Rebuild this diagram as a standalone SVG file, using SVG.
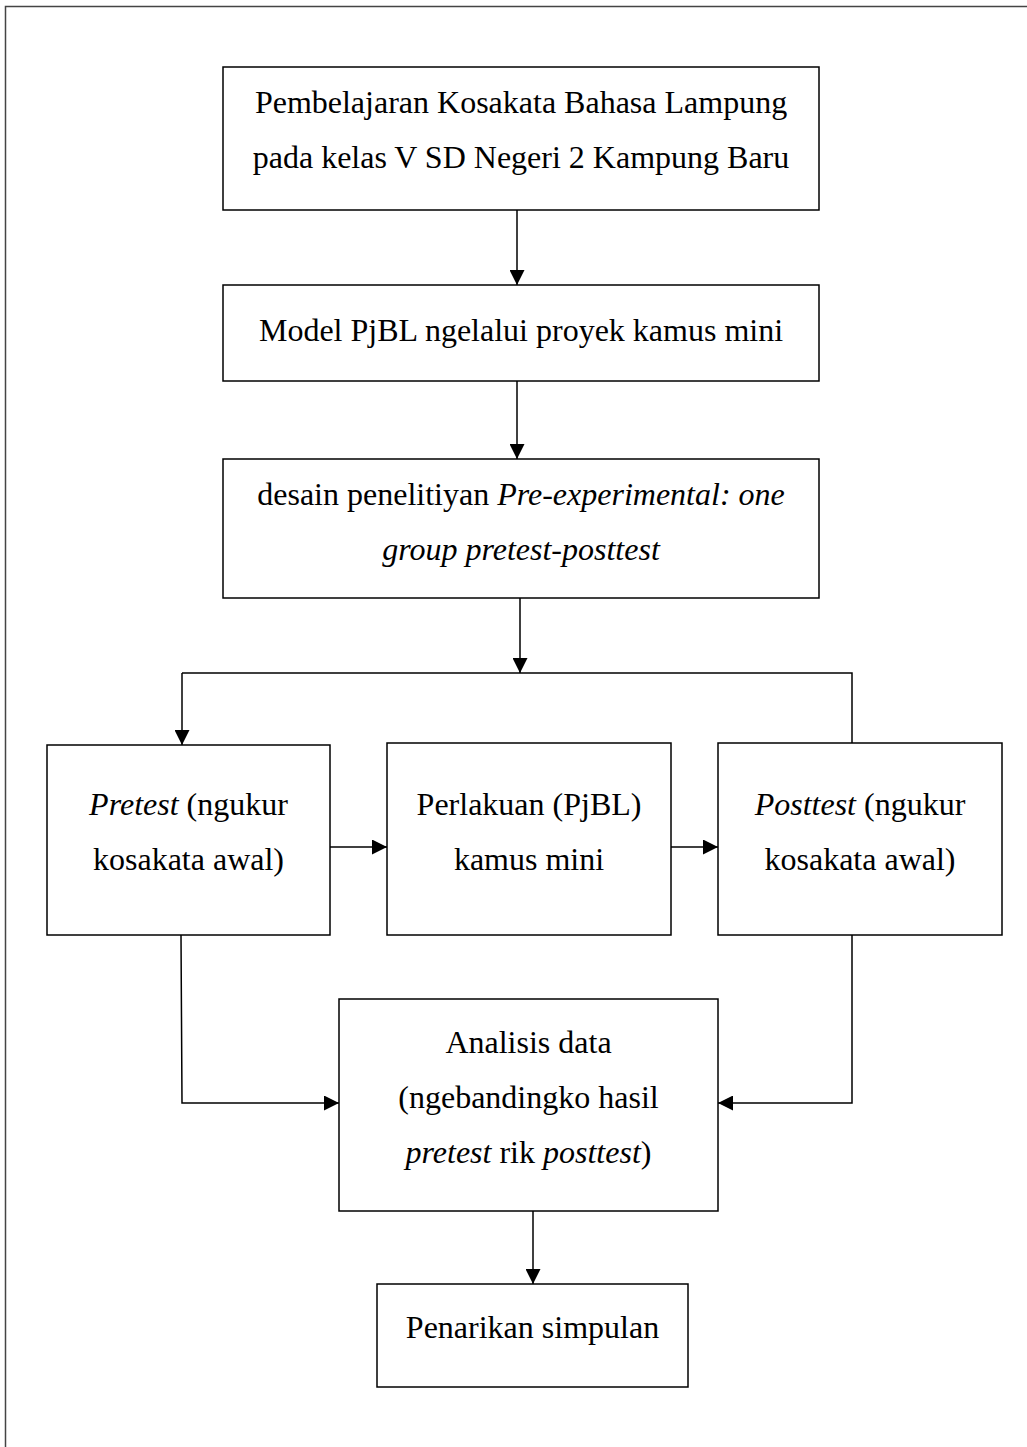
<svg xmlns="http://www.w3.org/2000/svg" width="1027" height="1447" viewBox="0 0 1027 1447">
  <style>
    .box { fill: #ffffff; stroke: #000000; stroke-width: 1.5; }
    .lbl { font-family: "Liberation Serif", "Times New Roman", serif; font-size: 32px; fill: #000000; text-anchor: middle; }
    .it { font-style: italic; }
    .conn { fill: none; stroke: #000000; stroke-width: 1.5; }
    .frame { fill: none; stroke: #444444; stroke-width: 1.5; }
  </style>
  <defs>
    <marker id="arrow" markerUnits="userSpaceOnUse" markerWidth="15" markerHeight="15" refX="15" refY="7.5" orient="auto">
      <path d="M0,0 L15,7.5 L0,15 Z" fill="#000000"/>
    </marker>
  </defs>
  <rect width="1027" height="1447" fill="#ffffff"/>
  <path class="frame" d="M5.5,1447 V6.5 H1027"/>

  <g id="connectors">
    <path class="conn" d="M517,210 V285" marker-end="url(#arrow)"/>
    <path class="conn" d="M517,381 V459" marker-end="url(#arrow)"/>
    <path class="conn" d="M520,598 V673" marker-end="url(#arrow)"/>
    <path class="conn" d="M182,673 H852 V743"/>
    <path class="conn" d="M182,673 V745" marker-end="url(#arrow)"/>
    <path class="conn" d="M330,847 H387" marker-end="url(#arrow)"/>
    <path class="conn" d="M671,847 H718" marker-end="url(#arrow)"/>
    <path class="conn" d="M181,935 L182,1103 H339" marker-end="url(#arrow)"/>
    <path class="conn" d="M852,935 V1103 H718" marker-end="url(#arrow)"/>
    <path class="conn" d="M533,1211 V1284" marker-end="url(#arrow)"/>
  </g>

  <g id="node-pembelajaran">
    <rect class="box" x="223" y="67" width="596" height="143"/>
    <text class="lbl" x="521" y="113">Pembelajaran Kosakata Bahasa Lampung</text>
    <text class="lbl" x="521" y="168">pada kelas V SD Negeri 2 Kampung Baru</text>
  </g>

  <g id="node-model">
    <rect class="box" x="223" y="285" width="596" height="96"/>
    <text class="lbl" x="521" y="341">Model PjBL ngelalui proyek kamus mini</text>
  </g>

  <g id="node-desain">
    <rect class="box" x="223" y="459" width="596" height="139"/>
    <text class="lbl" x="521" y="505">desain penelitiyan <tspan class="it">Pre-experimental: one</tspan></text>
    <text class="lbl it" x="521" y="560">group pretest-posttest</text>
  </g>

  <g id="node-pretest">
    <rect class="box" x="47" y="745" width="283" height="190"/>
    <text class="lbl" x="188.5" y="815"><tspan class="it">Pretest</tspan> (ngukur</text>
    <text class="lbl" x="188.5" y="870">kosakata awal)</text>
  </g>

  <g id="node-perlakuan">
    <rect class="box" x="387" y="743" width="284" height="192"/>
    <text class="lbl" x="529" y="815">Perlakuan (PjBL)</text>
    <text class="lbl" x="529" y="870">kamus mini</text>
  </g>

  <g id="node-posttest">
    <rect class="box" x="718" y="743" width="284" height="192"/>
    <text class="lbl" x="860" y="815"><tspan class="it">Posttest</tspan> (ngukur</text>
    <text class="lbl" x="860" y="870">kosakata awal)</text>
  </g>

  <g id="node-analisis">
    <rect class="box" x="339" y="999" width="379" height="212"/>
    <text class="lbl" x="528.5" y="1053">Analisis data</text>
    <text class="lbl" x="528.5" y="1108">(ngebandingko hasil</text>
    <text class="lbl" x="528.5" y="1163"><tspan class="it">pretest</tspan> rik <tspan class="it">posttest</tspan>)</text>
  </g>

  <g id="node-penarikan">
    <rect class="box" x="377" y="1284" width="311" height="103"/>
    <text class="lbl" x="532.5" y="1338">Penarikan simpulan</text>
  </g>
</svg>
